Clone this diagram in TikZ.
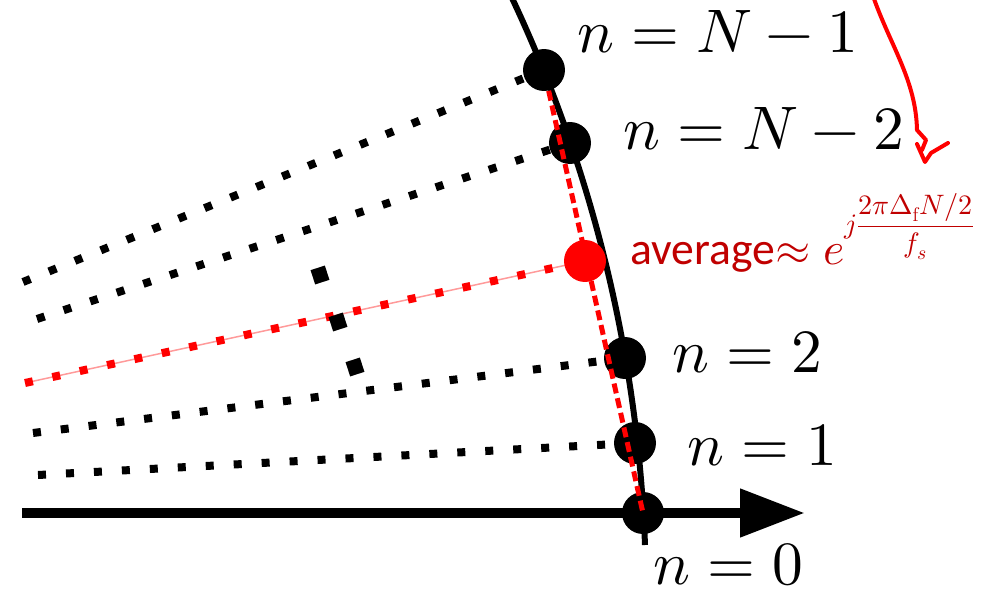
\documentclass[tikz,border=0pt]{standalone}
\usepackage{amsmath}
\usepackage{unicode-math}
\newfontfamily\avgfont{Carlito}
\usetikzlibrary{arrows.meta,backgrounds}
\definecolor{hot}{HTML}{FF0000}
\definecolor{wine}{HTML}{C00000}
\definecolor{rose}{HTML}{FF9A9A}

\begin{document}
\begin{tikzpicture}[x=0.02cm,y=-0.02cm,
  pt/.style={circle,fill=black,inner sep=0pt,minimum size=0.84cm},
  dots/.style={line width=0.16cm,dash pattern=on 0.16cm off 0.4cm},
  lab/.style={anchor=base west,inner sep=0pt,font=\fontsize{35}{40}\selectfont}]
\useasboundingbox (0,0) rectangle (1005,591);
% samples on the arc
\node[pt] (n0) at (643,513) {}; \node[pt] (n1) at (635,443) {}; \node[pt] (n2) at (625,358) {};
\node[pt,fill=hot] (avg) at (585,261) {};
\node[pt] (nN2) at (570,143) {}; \node[pt] (nN1) at (544,70) {};
\coordinate (l1) at (38,475); \coordinate (l2) at (33,433); \coordinate (la) at (25,383);
\coordinate (lN2) at (37,319); \coordinate (lN1) at (23,282);
\coordinate (o) at (22,513); \coordinate (xe) at (805,513);
\begin{scope}[on background layer]
\draw[line width=0.12cm] (645,545) arc[start angle=-2.15,end angle=-25.2,radius=1410];
\draw[line width=0.22cm,-{Triangle[length=1.3cm,width=0.92cm]}] (o)--(xe);
\foreach \a/\b in {l1/n1,l2/n2,lN2/nN2,lN1/nN1}\draw[dots] (\a)--(\b.center);
\draw[rose,line width=0.03cm] (la)--(avg.center); \draw[dots,hot] (la)--(avg.center);
\end{scope}
\draw[hot,line width=0.1cm,dash pattern=on 0.2cm off 0.1cm] (nN1)--(n0.center);
% vertical dots
\foreach \p [count=\i] in {(320,275),(338,322),(355,367)}\node[fill,inner sep=0pt,minimum size=0.3cm,rotate=18] (vd\i) at \p {};
% labels
\node[lab] (tN1) at (577,53) {$n=N-1$};
\node[lab] (tN2) at (623,150) {$n=N-2$};
\node[lab] (t2) at (672,373) {$n=2$};
\node[lab] (t1) at (687,465) {$n=1$};
\node[lab] (t0) at (653,584) {$n=0$};
\node[anchor=base west,inner sep=0pt,text=wine,font=\avgfont\fontsize{26}{30}\selectfont] (tav) at (630,265)
  {average$\approx e^{\hbox{\fontsize{16}{18}\selectfont$\displaystyle j\frac{2\pi\Delta_{\mathrm{f}}N/2}{f_s}$}}$};
% hand drawn arrow
\coordinate (hs) at (873,-4); \coordinate (hk) at (917,130);
\draw[hot,line width=0.08cm,line cap=round,line join=round] (hs) .. controls (890,45) and (916,80) .. (hk) -- (926,140) -- (922,150);
\draw[hot,line width=0.08cm,line cap=round,line join=round] (917,144) -- (925,162) -- (931,153) -- (948,143);
\end{tikzpicture}
\end{document}
